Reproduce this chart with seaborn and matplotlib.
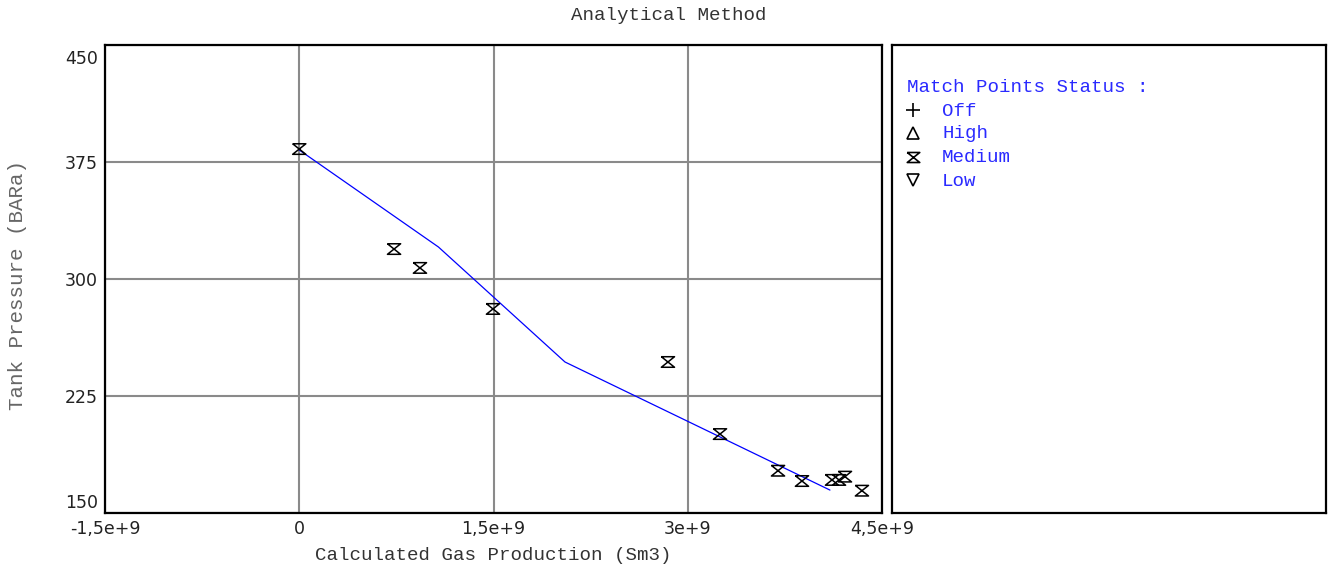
import matplotlib
matplotlib.use("Agg")
import matplotlib.pyplot as plt
import matplotlib.transforms as mtransforms
import seaborn as sns
import pandas as pd

# ---- data ----
match_x = [0.0, 0.732e9, 0.932e9, 1.496e9, 2.847e9, 3.249e9, 3.697e9,
           3.882e9, 4.114e9, 4.168e9, 4.214e9, 4.345e9]
match_y = [383.3, 319.2, 307.1, 280.8, 246.8, 200.6, 177.1,
           170.5, 171.2, 171.2, 173.3, 164.3]
line_x = [0.0, 1.075e9, 2.052e9, 4.098e9]
line_y = [382.7, 320.5, 246.8, 164.7]

x_ticks = [-1.5e9, 0, 1.5e9, 3e9, 4.5e9]
x_tick_labels = ["-1,5e+9", "0", "1,5e+9", "3e+9", "4,5e+9"]
y_ticks = [150, 225, 300, 375, 450]
y_tick_labels = ["150", "225", "300", "375", "450"]

legend_title = "Match Points Status :"
legend_labels = ["Off", "High", "Medium", "Low"]

title = "Analytical Method"
x_label = "Calculated Gas Production (Sm3)"
y_label = "Tank Pressure (BARa)"

# ---- style ----
sns.set_style("white")
plt.rcParams["font.family"] = ["DejaVu Sans"]
MONO = ["Liberation Mono", "DejaVu Sans Mono"]
BLUE = "#2a2aff"
FS = 13.8
hourglass = [(-1, 0.8), (1, 0.8), (-1, -0.8), (1, -0.8), (-1, 0.8)]

fig = plt.figure(figsize=(13.33, 5.69), dpi=100)
W, H = 1333, 569
ax = fig.add_axes([105 / W, 1 - 513 / H, (882 - 105) / W, (513 - 45) / H])
ax2 = fig.add_axes([892 / W, 1 - 513 / H, (1326 - 892) / W, (513 - 45) / H])

df_line = pd.DataFrame({"x": line_x, "y": line_y})
df_pts = pd.DataFrame({"x": match_x, "y": match_y})

sns.lineplot(data=df_line, x="x", y="y", sort=False, estimator=None,
             color="#0000ff", linewidth=0.9, ax=ax, zorder=3)
sns.scatterplot(data=df_pts, x="x", y="y", marker=hourglass, s=90,
                color="black", linewidth=1.1, ax=ax, zorder=4)
for coll in ax.collections:
    coll.set_facecolor("none")
    coll.set_edgecolor("black")

ax.set_xlim(-1.5e9, 4.5e9)
ax.set_ylim(150, 450)
ax.set_xticks(x_ticks)
ax.set_xticklabels(x_tick_labels)
ax.set_yticks(y_ticks)
ax.set_yticklabels(y_tick_labels)
ax.tick_params(length=0, labelsize=12.5, colors="#222222", pad=5)
ax.grid(True, color="#8a8a8a", linewidth=1.5)
ax.set_axisbelow(True)
for sp in ax.spines.values():
    sp.set_visible(True)
    sp.set_color("black")
    sp.set_linewidth(1.6)

# shift extreme y tick labels inward
ylabs = ax.get_yticklabels()
ylabs[-1].set_transform(ylabs[-1].get_transform() +
                        mtransforms.ScaledTranslation(0, -0.12, fig.dpi_scale_trans))
ylabs[0].set_transform(ylabs[0].get_transform() +
                       mtransforms.ScaledTranslation(0, 0.12, fig.dpi_scale_trans))

ax.set_xlabel(x_label, family=MONO, fontsize=FS, color="#333333")
ax.xaxis.set_label_coords(0.5, -0.073)
ax.set_ylabel(y_label, family=MONO, fontsize=15, color="#666666", va="center")
ax.yaxis.set_label_coords(-0.112, 0.487)

fig.text(669 / W, 1 - 15 / H, title, family=MONO, fontsize=FS,
         color="#333333", ha="center", va="center")

# ---- legend panel ----
ax2.set_xlim(0, 1)
ax2.set_ylim(0, 1)
ax2.set_xticks([])
ax2.set_yticks([])
for sp in ax2.spines.values():
    sp.set_visible(True)
    sp.set_color("black")
    sp.set_linewidth(1.6)

def fy(py):
    return 1 - (py - 45) / 468

ax2.text((907 - 892) / 434, fy(87), legend_title, family=MONO, fontsize=FS,
         color=BLUE, ha="left", va="center")
legend_markers = ["+", "^", hourglass, "v"]
legend_py = [110, 133, 157, 180]
for m, lab, py in zip(legend_markers, legend_labels, legend_py):
    ax2.plot([(913 - 892) / 434], [fy(py)], marker=m, markersize=9 if m != "+" else 10,
             markerfacecolor="none", markeredgecolor="black",
             markeredgewidth=1.2, linestyle="none")
    ax2.text((942 - 892) / 434, fy(py + 1), lab, family=MONO, fontsize=FS,
             color=BLUE, ha="left", va="center")

fig.savefig("out.png", dpi=100)
